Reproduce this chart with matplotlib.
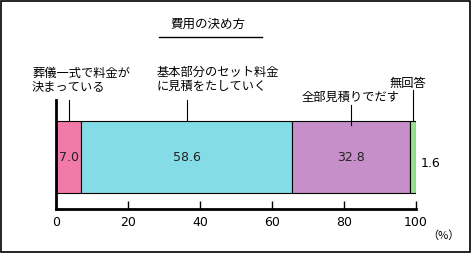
import numpy as np
import matplotlib
matplotlib.use("Agg")
import matplotlib.pyplot as plt
from matplotlib.patches import Rectangle
from matplotlib.lines import Line2D

plt.rcParams['font.family'] = ['Noto Sans CJK JP', 'DejaVu Sans']

# data
title = "費用の決め方"
categories = ["葬儀一式で料金が\n決まっている", "基本部分のセット料金\nに見積をたしていく",
              "全部見積りでだす", "無回答"]
values = [7.0, 58.6, 32.8, 1.6]
value_labels = ["7.0", "58.6", "32.8", "1.6"]
xticks = [0, 20, 40, 60, 80, 100]

colors = ['#f27aa8', '#84dce6', '#c68fca', '#98e08e']

W, H = 472, 254
fig = plt.figure(figsize=(W / 100, H / 100), dpi=100)


def fx(x):
    return x / W


def fy(y):
    return 1 - y / H


# axes: x 0..100 spans pixels 56..416, axes height from y=100 to y=209
ax = fig.add_axes([fx(56), fy(209), (416 - 56) / W, (209 - 100) / H])
ax.set_xlim(0, 100)
ax.set_ylim(0, 1)

bar_y, bar_h = 0.477, 0.66
lefts = np.concatenate([[0], np.cumsum(values)[:-1]])
ax.barh(bar_y, values, left=lefts, height=bar_h, color=colors,
        edgecolor='black', linewidth=0.8, zorder=2)

# value labels
for l, v, s in zip(lefts, values, value_labels):
    if v < 3:
        ax.text(104, bar_y - 0.06, s, ha='center', va='center', fontsize=9,
                family='DejaVu Sans', clip_on=False)
    else:
        ax.text(l + v / 2, bar_y, s, ha='center', va='center', fontsize=9,
                family='DejaVu Sans', color='#222222')

# leader lines from segment middles to category labels
leader_tops = [1.0, 1.0, 0.95, 1.09]
leader_bottoms = [0.807, 0.807, 0.77, 0.807]
for l, v, t, b in zip(lefts, values, leader_tops, leader_bottoms):
    xm = l + v / 2
    ax.plot([xm, xm], [b, t], color='black', lw=0.8, clip_on=False, zorder=3)

label_pos = [(32, 80), (157, 79), (302, 97), (390, 83)]
for txt, (px, py) in zip(categories, label_pos):
    fig.text(fx(px), fy(py), txt, ha='left', va='center', fontsize=8.8,
             linespacing=1.1)

# axes styling
for side in ['top', 'right']:
    ax.spines[side].set_visible(False)
ax.spines['left'].set_linewidth(2)
ax.spines['bottom'].set_linewidth(2)
ax.set_yticks([])
ax.set_xticks(xticks)
ax.set_xticklabels([str(t) for t in xticks], family='DejaVu Sans', fontsize=9)
ax.tick_params(axis='x', direction='in', length=6, width=1, pad=5)
ax.patch.set_alpha(0)

fig.text(fx(443), fy(236), "（%）", ha='center', va='center', fontsize=8)

# title and underline
fig.text(fx(208), fy(24), title, ha='center', va='center', fontsize=9)
fig.add_artist(Line2D([fx(159), fx(262)], [fy(37), fy(37)], color='black', lw=1))

# outer frame
fig.add_artist(Rectangle((fx(1), fy(252)), fx(469), 251 / H, fill=False,
                         edgecolor='black', lw=1.2, transform=fig.transFigure))

fig.savefig("out.png", dpi=100)
